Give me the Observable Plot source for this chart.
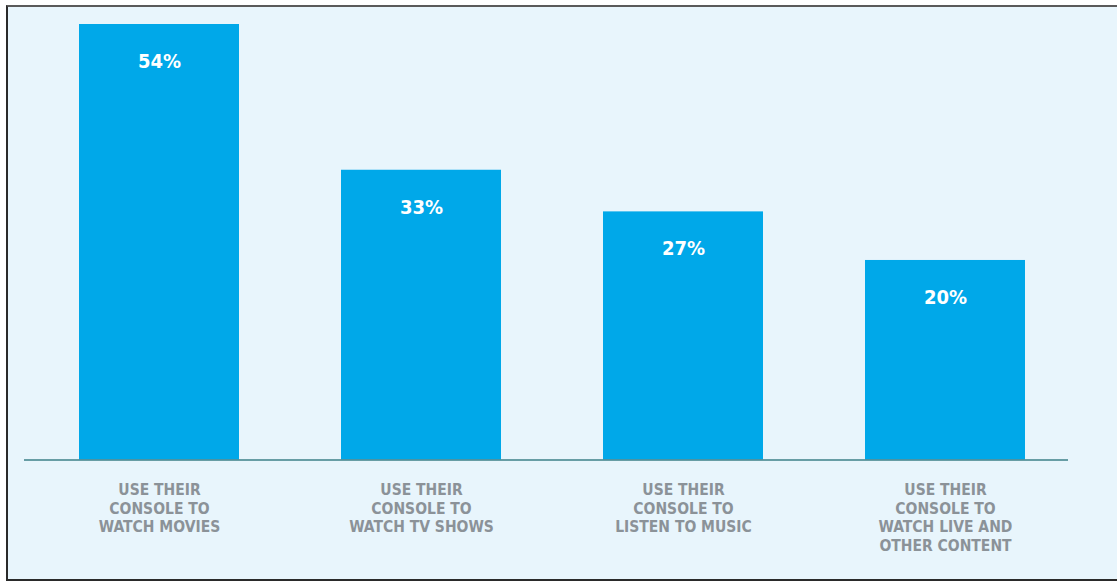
<!DOCTYPE html>
<html>
<head>
<meta charset="utf-8">
<script src="https://cdn.jsdelivr.net/npm/d3@7"></script>
<script src="https://cdn.jsdelivr.net/npm/@observablehq/plot@0.6"></script>
<style>
  html, body { margin: 0; padding: 0; background: #ffffff; overflow: hidden; }
  #frame {
    position: absolute; left: 6px; top: 5px; width: 1115px; height: 572px;
    border-top: 2px solid #5a5a5a; border-left: 2px solid #2a2a2a; border-bottom: 2px solid #2a2a2a;
    background: #e8f5fc;
  }
  #chart { position: absolute; left: 0; top: 0; }
</style>
</head>
<body>
<div id="frame"></div>
<div id="chart"></div>
<script>
const categories = ["Movies", "TV shows", "Music", "Live and other"];
const values = [54, 33, 27, 20];
const tickLabels = [
  "USE THEIR\nCONSOLE TO\nWATCH MOVIES",
  "USE THEIR\nCONSOLE TO\nWATCH TV SHOWS",
  "USE THEIR\nCONSOLE TO\nLISTEN TO MUSIC",
  "USE THEIR\nCONSOLE TO\nWATCH LIVE AND\nOTHER CONTENT"
];
const baseValue = -8.75;

const data = categories.map((c, i) => ({category: c, value: values[i]}));
const font = "'DejaVu Sans Condensed', 'Liberation Sans', sans-serif";

const chart = Plot.plot({
  width: 1117,
  height: 581,
  marginTop: 24,
  marginBottom: 121.5,
  marginLeft: 24,
  marginRight: 49,
  style: {background: "transparent", fontFamily: font},
  x: {domain: categories, paddingInner: 0.39, paddingOuter: 0.18, align: 0.56, axis: null, label: null},
  y: {domain: [baseValue, 54], axis: null},
  marks: [
    Plot.barY(data, {x: "category", y1: baseValue, y2: "value", fill: "#00a8e9"}),
    Plot.ruleY([baseValue], {stroke: "#3d7f88", strokeWidth: 1.5}),
    Plot.text(data, {x: "category", y: "value", text: d => d.value + "%", dy: 37,
      fill: "white", fontSize: 20, fontWeight: "bold"}),
    Plot.axisX({tickSize: 0, tickPadding: 22, lineAnchor: "top", label: null,
      tickFormat: d => tickLabels[categories.indexOf(d)],
      fontSize: 15.5, lineHeight: 1.2, fill: "#8b9298", fontWeight: "bold"})
  ]
});
document.getElementById("chart").appendChild(chart);
</script>
</body>
</html>
